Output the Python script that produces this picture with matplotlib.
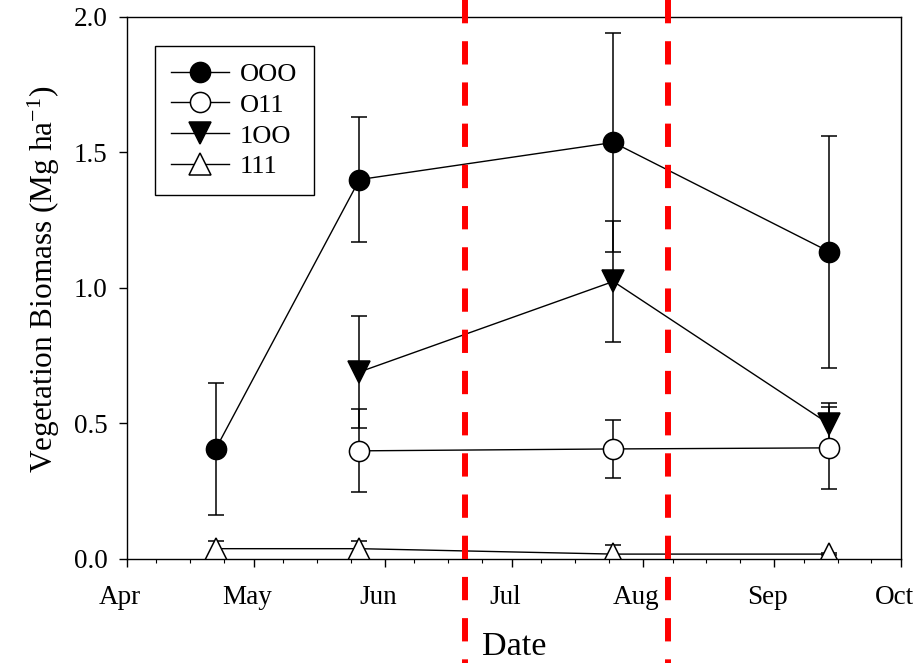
import matplotlib
matplotlib.use('Agg')
import matplotlib.pyplot as plt
import matplotlib.dates as mdates
import matplotlib.transforms as mtransforms
from matplotlib.lines import Line2D
import numpy as np

plt.rcParams['font.family'] = ['Liberation Serif', 'DejaVu Serif']
plt.rcParams['mathtext.fontset'] = 'stix'

# sampling dates
dates_ooo = ['2013-04-22', '2013-05-26', '2013-07-25', '2013-09-14']
dates_late = ['2013-05-26', '2013-07-25', '2013-09-14']

ooo = [0.405, 1.40, 1.537, 1.134]
ooo_err = [0.243, 0.231, 0.404, 0.428]

o11 = [0.399, 0.406, 0.41]
o11_err = [0.153, 0.108, 0.15]

ioo = [0.69, 1.024, 0.498]
ioo_err = [0.205, 0.223, 0.077]

i11 = [0.038, 0.038, 0.018, 0.018]
i11_err = [0.03, 0.03, 0.033, 0.004]

# treatment dates (red dashed lines)
events = ['2013-06-20', '2013-08-07']

def d(lst):
    return [np.datetime64(s) for s in lst]

fig = plt.figure(figsize=(9.17, 6.63), dpi=100)
ax = fig.add_axes([0.1382, 0.1569, 0.9826 - 0.1382, 0.9744 - 0.1569])

ekw = dict(capsize=6, elinewidth=1.1, capthick=1.1, ecolor='black',
           color='black', linewidth=1.0, markeredgewidth=1.1)

c1 = ax.errorbar(d(dates_ooo), ooo, yerr=ooo_err, marker='o', mfc='black',
                 mec='black', markersize=14.5, **ekw)
c2 = ax.errorbar(d(dates_late), o11, yerr=o11_err, marker='o', mfc='white',
                 mec='black', markersize=14.5, **ekw)
c3 = ax.errorbar(d(dates_late), ioo, yerr=ioo_err, marker='v', mfc='black',
                 mec='black', markersize=15.5, **ekw)
c4 = ax.errorbar(d(dates_ooo), i11, yerr=i11_err, marker='^', mfc='white',
                 mec='black', markersize=15.5, **ekw)

ax.set_xlim(np.datetime64('2013-04-01'), np.datetime64('2013-10-01'))
ax.set_ylim(0, 2.0)
ax.set_yticks([0.0, 0.5, 1.0, 1.5, 2.0])
ax.set_yticklabels(['0.0', '0.5', '1.0', '1.5', '2.0'])
ax.xaxis.set_major_locator(mdates.MonthLocator())
ax.xaxis.set_minor_locator(mdates.DayLocator(bymonthday=[8, 16, 24]))
ax.xaxis.set_major_formatter(mdates.DateFormatter('%b'))

ax.tick_params(axis='both', which='major', direction='out', length=6,
               width=1.0, labelsize=19.5)
ax.tick_params(axis='x', which='major', pad=12.5)
ax.tick_params(axis='y', which='major', pad=8)
ax.tick_params(axis='x', which='minor', direction='out', length=3, width=0.8)
for s in ax.spines.values():
    s.set_linewidth(1.0)

ax.set_xlabel('Date', fontsize=24.5, labelpad=15.5)
ax.set_ylabel('Vegetation Biomass (Mg ha$^{\\mathregular{-1}}$)', fontsize=22.5, labelpad=8)
ax.yaxis.label.set_y(0.517)

# red dashed lines spanning the whole figure height
trans = mtransforms.blended_transform_factory(ax.transData, fig.transFigure)
for e in events:
    x = mdates.date2num(np.datetime64(e))
    fig.add_artist(Line2D([x, x], [1.0, 0.0], transform=trans, color='red',
                          linewidth=4.3, linestyle=(0, (3.9, 3.0)), zorder=5))

leg = ax.legend(handles=[c1[0], c2[0], c3[0], c4[0]],
                labels=['OOO', 'O11', '1OO', '111'],
                loc='upper left', bbox_to_anchor=(0.0365, 0.9465),
                borderaxespad=0, fontsize=19, frameon=True, fancybox=False,
                edgecolor='black', framealpha=1, handlelength=2.2,
                handletextpad=0.4, labelspacing=0.28, borderpad=0.62)
leg.get_frame().set_linewidth(1.0)

# month labels sit a little left of their ticks in the original
fig.canvas.draw()
shift = mtransforms.ScaledTranslation(-6.5 / 100, 0, fig.dpi_scale_trans)
for tk in ax.xaxis.get_major_ticks():
    tk.label1.set_transform(tk.label1.get_transform() + shift)

fig.savefig('out.png', dpi=100)
